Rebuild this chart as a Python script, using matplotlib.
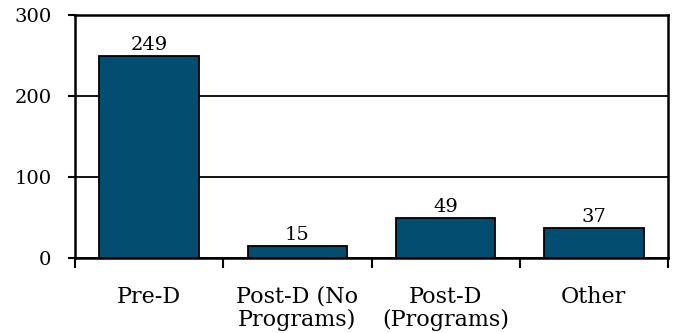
import matplotlib
matplotlib.use("Agg")
import matplotlib.pyplot as plt
from matplotlib.ticker import FixedLocator, NullFormatter

categories = ["Pre-D", "Post-D (No\nPrograms)", "Post-D\n(Programs)", "Other"]
counts = [249, 15, 49, 37]
y_ticks = [0, 100, 200, 300]

plt.rcParams["font.family"] = ["DejaVu Serif"]
plt.rcParams["font.size"] = 14

fig = plt.figure(figsize=(6.73, 3.33), dpi=100)
ax = fig.add_axes([75 / 673, 75 / 333, 593 / 673, 243 / 333])

x = list(range(len(categories)))
ax.bar(x, counts, width=0.67, color="#024d70", edgecolor="black",
       linewidth=1.3, zorder=3)
for xi, v in zip(x, counts):
    ax.annotate(str(v), (xi, v), xytext=(0, 4.5), textcoords="offset points",
                ha="center", va="baseline", fontsize=14)

ax.set_xlim(-0.5, len(categories) - 0.5)
ax.set_ylim(0, 300)
ax.set_yticks(y_ticks)
ax.yaxis.grid(True, color="black", linewidth=1.3, zorder=1)
ax.set_axisbelow(True)

ax.set_xticks(x)
ax.set_xticklabels(categories, fontsize=16, linespacing=1.05)
bounds = [i - 0.5 for i in range(len(categories) + 1)]
ax.xaxis.set_minor_locator(FixedLocator(bounds))
ax.xaxis.set_minor_formatter(NullFormatter())
ax.tick_params(axis="x", which="major", length=0, pad=20)
ax.tick_params(axis="x", which="minor", length=7, width=1.5, direction="out")
ax.tick_params(axis="y", length=5, width=1.5, direction="out", pad=12)

for s in ax.spines.values():
    s.set_linewidth(1.8)
    s.set_color("black")

fig.savefig("out.png", dpi=100)
